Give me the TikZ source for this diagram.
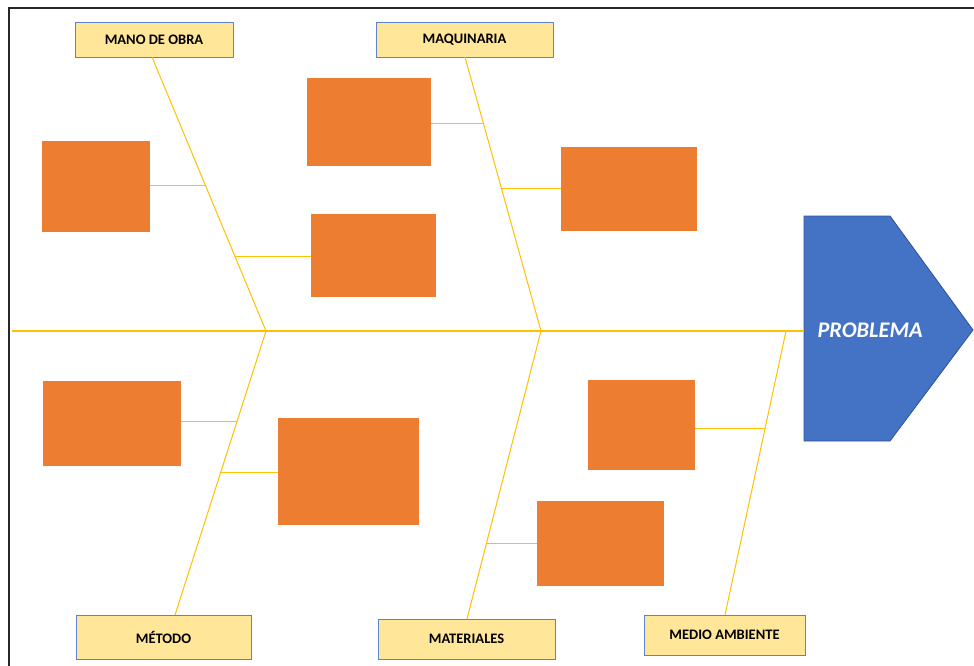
\documentclass[tikz,border=0pt]{standalone}
\usepackage{fontspec}
\setmainfont{Carlito}
\definecolor{bone}{HTML}{FFC000}
\definecolor{cause}{HTML}{ED7D31}
\definecolor{labelfill}{HTML}{FFE699}
\definecolor{labeledge}{HTML}{5B84CC}
\definecolor{headfill}{HTML}{4472C4}
\definecolor{headedge}{HTML}{2F528F}
\tikzset{
  causebox/.style={fill=cause, draw=none, inner sep=0pt},
  category/.style={fill=labelfill, draw=labeledge, line width=0.8pt, inner sep=0pt,
    font=\fontsize{14.5}{16}\selectfont\bfseries, text=black},
  boneline/.style={draw=bone, line width=1pt},
  spineline/.style={draw=bone, line width=1.8pt},
}
\begin{document}
\begin{tikzpicture}[x=1pt, y=-1pt]
\useasboundingbox (0,0) rectangle (974,666);
% frame (top and left edges)
\draw[line width=1.6pt, black!85] (9,666) -- (9,8) -- (974,8);

% head of the fish
\path[fill=headfill, draw=headedge, line width=0.8pt]
  (804,216) -- (890,216) -- (973,330) -- (890,441) -- (804,441) -- cycle;
\node[text=white, font=\fontsize{22.3}{25}\selectfont\bfseries\itshape] (problem) at (870,330) {PROBLEMA};
\coordinate (headin) at (804,331);
\coordinate (tail) at (12,331);

% category labels
\node[category, minimum width=158pt, minimum height=35pt] (mano) at (154,39.5) {MANO DE OBRA};
\node[category, minimum width=177pt, minimum height=35pt] (maq) at (464.5,39.5) {MAQUINARIA};
\node[category, minimum width=175pt, minimum height=44pt] (met) at (163.5,637) {MÉTODO};
\node[category, minimum width=177pt, minimum height=40pt] (mat) at (466.5,639) {MATERIALES};
\node[category, minimum width=161pt, minimum height=40pt] (med) at (724.5,635) {MEDIO AMBIENTE};

% cause boxes
\node[causebox, minimum width=108pt, minimum height=91pt] (c1) at (96,186.5) {};
\node[causebox, minimum width=124pt, minimum height=88pt] (c2) at (369,122) {};
\node[causebox, minimum width=125pt, minimum height=83pt] (c3) at (373.5,255.5) {};
\node[causebox, minimum width=136pt, minimum height=84pt] (c4) at (629,189) {};
\node[causebox, minimum width=138pt, minimum height=85pt] (c5) at (112,423.5) {};
\node[causebox, minimum width=141pt, minimum height=107pt] (c6) at (348.5,471.5) {};
\node[causebox, minimum width=107pt, minimum height=90pt] (c7) at (641.5,425) {};
\node[causebox, minimum width=127pt, minimum height=85pt] (c8) at (600.5,543.5) {};

% joints on the spine
\coordinate (j1) at (266,331);
\coordinate (j2) at (541,331);
\coordinate (j3) at (786,331);

% spine
\draw[spineline] (tail) -- (headin);

% main bones
\draw[boneline] (152,57) coordinate (manotop) -- (j1);
\draw[boneline] (465,57) coordinate (maqtop) -- (j2);
\draw[boneline] (j1) -- (175,615) coordinate (metbot);
\draw[boneline] (j2) -- (467,619) coordinate (matbot);
\draw[boneline] (j3) -- (725,615) coordinate (medbot);

% branches to the cause boxes
\coordinate (b1) at (205,185);
\coordinate (b2) at (235,256);
\coordinate (b3) at (484,124);
\coordinate (b4) at (501,188);
\coordinate (b5) at (237,421);
\coordinate (b6) at (221,472);
\coordinate (b7) at (765,428);
\coordinate (b8) at (486.5,543);
\draw[boneline] (c1.east |- b1) -- (b1);
\draw[boneline] (b2) -- (c3.west |- b2);
\draw[boneline] (c2.east |- b3) -- (b3);
\draw[boneline] (b4) -- (c4.west |- b4);
\draw[boneline] (c5.east |- b5) -- (b5);
\draw[boneline] (b6) -- (c6.west |- b6);
\draw[boneline] (c7.east |- b7) -- (b7);
\draw[boneline] (b8) -- (c8.west |- b8);
\end{tikzpicture}
\end{document}
